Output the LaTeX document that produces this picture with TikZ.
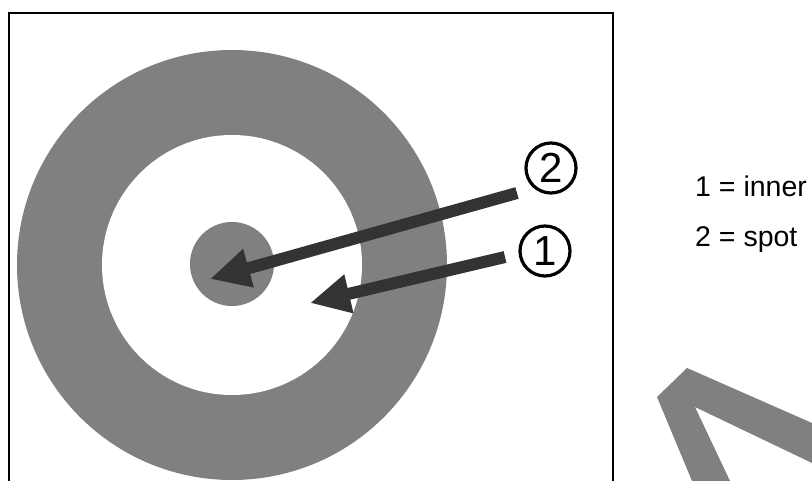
\documentclass[tikz,border=0pt]{standalone}
\usepackage{fontspec}
\setmainfont{Liberation Sans}
\usetikzlibrary{arrows.meta}

\definecolor{ringgray}{HTML}{808080}
\definecolor{arrowgray}{HTML}{333333}

\begin{document}
\begin{tikzpicture}[x=1pt, y=-1pt,
  num/.style={circle, draw, line width=3.2pt, minimum size=50pt, inner sep=0pt, font=\fontsize{42}{42}\selectfont},
  legend/.style={anchor=base west, inner sep=0pt, font=\fontsize{28.5}{30}\selectfont},
  pointer/.style={-{Triangle[length=40pt, width=37pt]}, line width=12pt, draw=arrowgray}
]
  \useasboundingbox (0,0) rectangle (812,481);

  % frame, open at the bottom
  \draw[line width=2pt] (9,481) -- (9,13) -- (613,13) -- (613,481);

  % target
  \fill[ringgray] (232,265) circle[radius=215];
  \fill[white] (232,265) circle[radius=130];
  \fill[ringgray] (232,264) circle[radius=42];

  % circled numbers
  \node[num] (two) at (551,168) {2};
  \node[num] (one) at (545,251) {1};

  \coordinate (tailtwo) at (517,193);
  \coordinate (tiptwo) at (210,279);
  \coordinate (tailone) at (505,257);
  \coordinate (tipone) at (310,303);

  \draw[pointer] (tailtwo) -- (tiptwo);
  \draw[pointer] (tailone) -- (tipone);

  % legend
  \node[legend] (innerlbl) at (695,197) {1 = inner};
  \node[legend] (spotlbl) at (695,247) {2 = spot};

  % gray mark in the corner
  \fill[ringgray] (657,397) -- (687,368) -- (812,423) -- (812,463)
    -- (695,407) -- (730,481) -- (692,481) -- cycle;
\end{tikzpicture}
\end{document}
